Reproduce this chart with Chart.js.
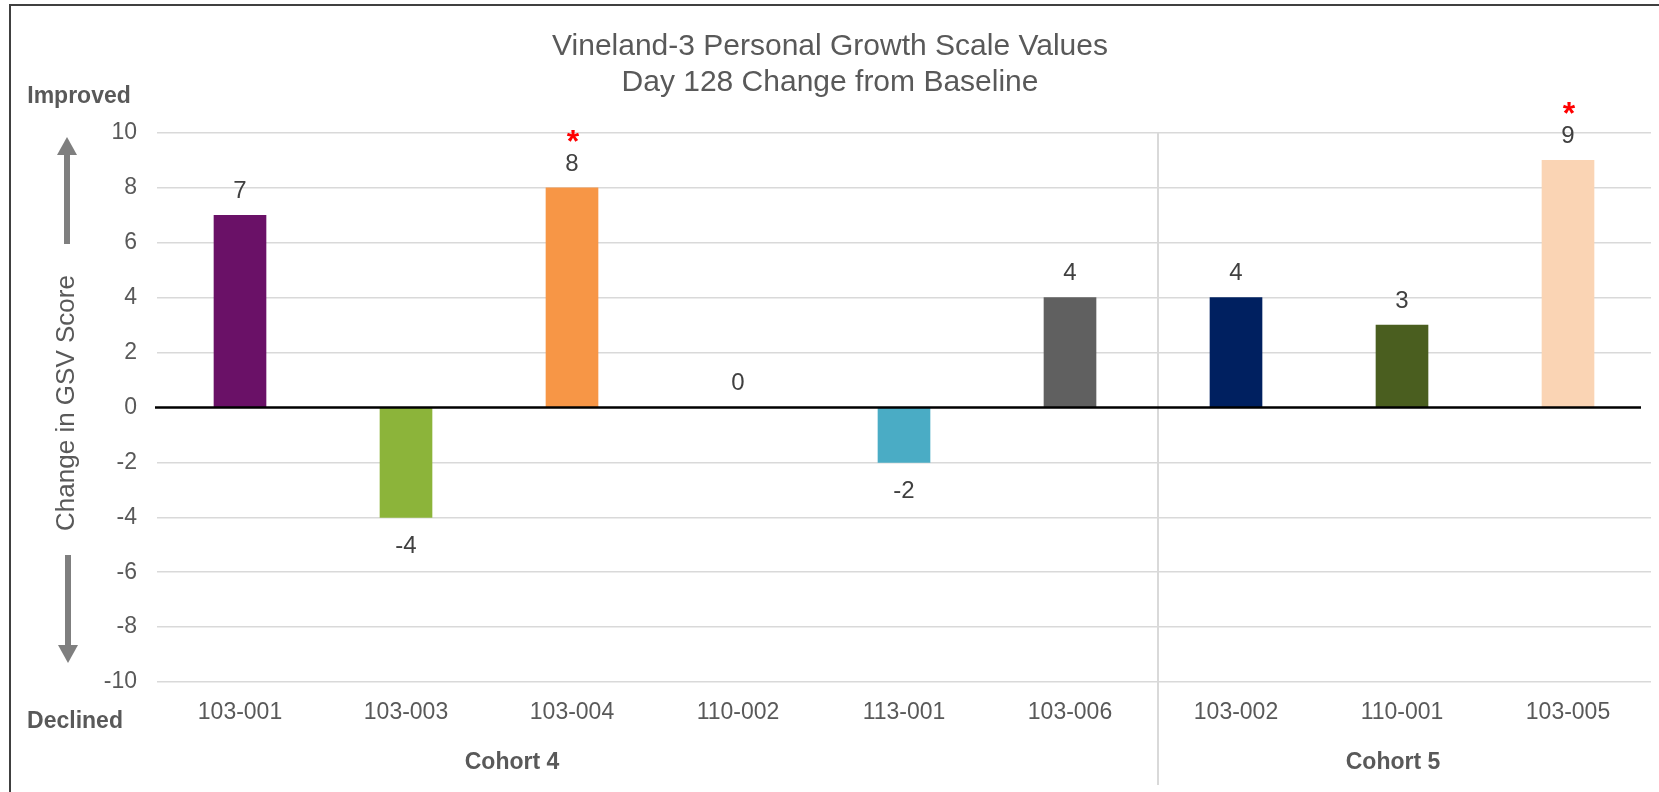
<!DOCTYPE html>
<html>
<head>
<meta charset="utf-8">
<title>Vineland-3 Personal Growth Scale Values</title>
<script src="https://cdn.jsdelivr.net/npm/chart.js@4"></script>
<style>
  html, body { margin: 0; padding: 0; background: #fff; }
  #chart { display: block; }
</style>
</head>
<body>
<canvas id="chart" width="1659" height="792"></canvas>
<script>
// subjects and their Day 128 change in GSV score
const subjects = ['103-001', '103-003', '103-004', '110-002', '113-001', '103-006', '103-002', '110-001', '103-005'];
const changes = [7, -4, 8, 0, -2, 4, 4, 3, 9];
const barColors = ['#6a1167', '#8cb43a', '#f79646', '#9e9e9e', '#4aacc5', '#606060', '#002060', '#4a5e1f', '#fad4b4'];
const starred = [false, false, true, false, false, false, false, false, true];
const cohortNames = ['Cohort 4', 'Cohort 5'];
const yTicks = [-10, -8, -6, -4, -2, 0, 2, 4, 6, 8, 10];

const FONT = '"Liberation Sans", Arial, sans-serif';
const GREY = '#595959';

function arrow(ctx, x, yTail, yTip, dir) {
    ctx.save();
    ctx.fillStyle = '#7f7f7f';
    const head = 18;
    const baseY = yTip - dir * head;
    ctx.fillRect(x - 3, Math.min(yTail, baseY), 6, Math.abs(baseY - yTail));
    ctx.beginPath();
    ctx.moveTo(x, yTip);
    ctx.lineTo(x - 10, baseY);
    ctx.lineTo(x + 10, baseY);
    ctx.closePath();
    ctx.fill();
    ctx.restore();
}

const decorations = {
    id: 'decorations',
    beforeDraw(chart) {
        const ctx = chart.ctx;
        ctx.save();
        ctx.fillStyle = '#fff';
        ctx.fillRect(0, 0, chart.width, chart.height);
        // frame: top and left edges
        ctx.strokeStyle = '#404040';
        ctx.lineWidth = 2;
        ctx.beginPath();
        ctx.moveTo(10, chart.height);
        ctx.lineTo(10, 5);
        ctx.lineTo(chart.width, 5);
        ctx.stroke();
        ctx.restore();
    },
    afterDatasetsDraw(chart) {
        const ctx = chart.ctx;
        const x = chart.scales.x, y = chart.scales.y;
        const area = chart.chartArea;
        ctx.save();
        // cohort divider
        const divX = (x.getPixelForValue(5) + x.getPixelForValue(6)) / 2 + 5;
        ctx.strokeStyle = '#d9d9d9';
        ctx.lineWidth = 2;
        ctx.beginPath();
        ctx.moveTo(divX, area.top);
        ctx.lineTo(divX, 785);
        ctx.stroke();
        // zero line
        const y0 = y.getPixelForValue(0);
        ctx.strokeStyle = '#000';
        ctx.lineWidth = 2.5;
        ctx.beginPath();
        ctx.moveTo(area.left - 2, y0);
        ctx.lineTo(area.right - 10, y0);
        ctx.stroke();
        ctx.restore();
    },
    afterDraw(chart) {
        const ctx = chart.ctx;
        const meta = chart.getDatasetMeta(0);
        const y = chart.scales.y;
        const y0 = y.getPixelForValue(0);
        ctx.save();

        // title
        ctx.fillStyle = GREY;
        ctx.font = '30px ' + FONT;
        ctx.textAlign = 'center';
        ctx.textBaseline = 'middle';
        ctx.fillText('Vineland-3 Personal Growth Scale Values', 830, 47);
        ctx.fillText('Day 128 Change from Baseline', 830, 83);

        // value labels and significance stars
        meta.data.forEach((bar, i) => {
            const v = changes[i];
            const top = Math.min(bar.y, y0);
            const bottom = Math.max(bar.y, y0);
            const ly = v >= 0 ? top - 24 : bottom + 29;
            ctx.fillStyle = '#404040';
            ctx.font = '24px ' + FONT;
            ctx.textAlign = 'center';
            ctx.textBaseline = 'middle';
            ctx.fillText(String(v), bar.x, ly);
            if (starred[i]) {
                ctx.fillStyle = '#ff0000';
                ctx.font = 'bold 32px ' + FONT;
                ctx.textBaseline = 'alphabetic';
                ctx.fillText('*', bar.x + 1, ly - 12);
            }
        });

        // axis title
        ctx.fillStyle = GREY;
        ctx.font = '26px ' + FONT;
        ctx.save();
        ctx.translate(67, 403);
        ctx.rotate(-Math.PI / 2);
        ctx.textAlign = 'center';
        ctx.textBaseline = 'middle';
        ctx.fillText('Change in GSV Score', 0, 0);
        ctx.restore();

        // direction arrows and captions
        arrow(ctx, 67, 244, 137, -1);
        arrow(ctx, 68, 555, 663, 1);
        ctx.fillStyle = GREY;
        ctx.font = 'bold 23px ' + FONT;
        ctx.textAlign = 'center';
        ctx.textBaseline = 'middle';
        ctx.fillText('Improved', 79, 97);
        ctx.fillText('Declined', 75, 722);

        // cohort captions
        ctx.fillText(cohortNames[0], 512, 763);
        ctx.fillText(cohortNames[1], 1393, 763);
        ctx.restore();
    }
};

new Chart(document.getElementById('chart').getContext('2d'), {
    type: 'bar',
    data: {
        labels: subjects,
        datasets: [{
            data: changes,
            backgroundColor: barColors,
            borderWidth: 0,
            barThickness: 52
        }]
    },
    options: {
        responsive: false,
        animation: false,
        layout: { padding: { top: 133, right: 8, left: 0, bottom: 0 } },
        plugins: {
            legend: { display: false },
            tooltip: { enabled: false },
            title: { display: false }
        },
        scales: {
            x: {
                grid: { display: false },
                border: { display: false },
                ticks: {
                    color: GREY,
                    font: { family: FONT, size: 23 },
                    padding: 9,
                    maxRotation: 0
                },
                afterFit(scale) { scale.height = 110; }
            },
            y: {
                min: -10,
                max: 10,
                afterBuildTicks(scale) { scale.ticks = yTicks.map(v => ({ value: v })); },
                grid: {
                    color: ctx => ctx.tick && ctx.tick.value === 0 ? 'rgba(0,0,0,0)' : '#d9d9d9',
                    lineWidth: 1.5,
                    drawTicks: false
                },
                border: { display: false },
                ticks: {
                    color: GREY,
                    font: { family: FONT, size: 23 },
                    padding: 20
                },
                afterFit(scale) { scale.width = 157; }
            }
        }
    },
    plugins: [decorations]
});
</script>
</body>
</html>
